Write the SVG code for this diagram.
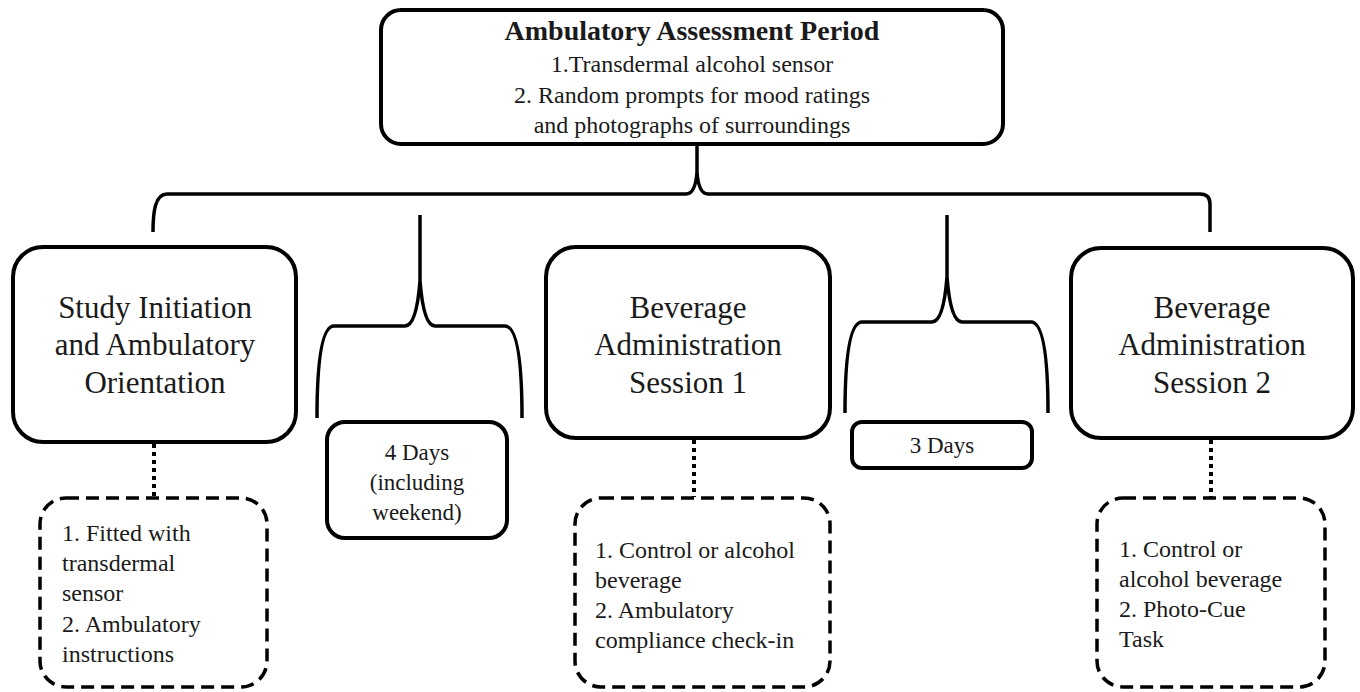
<svg xmlns="http://www.w3.org/2000/svg" width="1360" height="692" viewBox="0 0 1360 692">
<style>
.box{fill:#fff;stroke:#000;stroke-width:4}
.dash{fill:#fff;stroke:#000;stroke-width:3.5;stroke-dasharray:13 7}
.dot{fill:none;stroke:#000;stroke-width:4;stroke-dasharray:4 4}
.brace{fill:none;stroke:#000;stroke-width:3.5}
text{font-family:"Liberation Serif","Times New Roman",serif;fill:#1a1a1a}
.big{font-size:31px;text-anchor:middle}
.mid{font-size:24px;text-anchor:middle}
.sm{font-size:24px}
.days{font-size:23px;text-anchor:middle}
.title{font-size:28px;font-weight:bold;text-anchor:middle}
</style>
<rect width="1360" height="692" fill="#fff"/>
<g id="connectors">
<path class="brace" d="M153,232 C153,212 155,194 167,194 L686,194 C693,194 696,186 697,172 L697,145 M697,172 C698,186 701,194 708,194 L1200,194 Q1210,194 1210,204 L1210,232"/>
<path class="brace" d="M317,418 C317,373 320,326 334,326 L405,326 C414,326 418,306 420,281 L420,215 M420,281 C422,306 426,326 435,326 L505,326 C519,326 522,373 522,418"/>
<path class="brace" d="M845,413 C845,368 848,322 862,322 L932,322 C941,322 945,302 947,277 L947,215 M947,277 C949,302 953,322 962,322 L1031,322 C1045,322 1048,368 1048,413"/>
<line class="dot" x1="154" y1="444" x2="154" y2="497"/>
<line class="dot" x1="694" y1="440" x2="694" y2="497"/>
<line class="dot" x1="1211" y1="440" x2="1211" y2="497"/>
</g>
<g id="top">
<rect class="box" x="381" y="10" width="622" height="134" rx="20"/>
<text class="title" x="692" y="40">Ambulatory Assessment Period</text>
<text class="mid" x="692" y="72">1.Transdermal alcohol sensor</text>
<text class="mid" x="692" y="103">2. Random prompts for mood ratings</text>
<text class="mid" x="692" y="133">and photographs of surroundings</text>
</g>
<g id="study">
<rect class="box" x="13" y="247" width="283" height="195" rx="30"/>
<text class="big" x="155" y="318">Study Initiation</text>
<text class="big" x="155" y="355">and Ambulatory</text>
<text class="big" x="155" y="393">Orientation</text>
</g>
<g id="study-detail">
<rect class="dash" x="40" y="498" width="227" height="189" rx="26"/>
<text class="sm" x="62" y="541">1. Fitted with</text>
<text class="sm" x="62" y="571">transdermal</text>
<text class="sm" x="62" y="601">sensor</text>
<text class="sm" x="62" y="632">2. Ambulatory</text>
<text class="sm" x="62" y="662">instructions</text>
</g>
<g id="days4">
<rect class="box" x="327" y="422" width="180" height="116" rx="18"/>
<text class="days" x="417" y="460">4 Days</text>
<text class="days" x="417" y="490">(including</text>
<text class="days" x="417" y="520">weekend)</text>
</g>
<g id="session1">
<rect class="box" x="546" y="247" width="284" height="191" rx="30"/>
<text class="big" x="688" y="318">Beverage</text>
<text class="big" x="688" y="355">Administration</text>
<text class="big" x="688" y="393">Session 1</text>
</g>
<g id="session1-detail">
<rect class="dash" x="575" y="498" width="255" height="189" rx="26"/>
<text class="sm" x="595" y="558">1. Control or alcohol</text>
<text class="sm" x="595" y="588">beverage</text>
<text class="sm" x="595" y="618">2. Ambulatory</text>
<text class="sm" x="595" y="648">compliance check-in</text>
</g>
<g id="days3">
<rect class="box" x="852" y="422" width="180" height="46" rx="10"/>
<text class="days" x="942" y="453">3 Days</text>
</g>
<g id="session2">
<rect class="box" x="1071" y="248" width="282" height="190" rx="30"/>
<text class="big" x="1212" y="318">Beverage</text>
<text class="big" x="1212" y="355">Administration</text>
<text class="big" x="1212" y="393">Session 2</text>
</g>
<g id="session2-detail">
<rect class="dash" x="1097" y="498" width="228" height="189" rx="26"/>
<text class="sm" x="1119" y="557">1. Control or</text>
<text class="sm" x="1119" y="587">alcohol beverage</text>
<text class="sm" x="1119" y="617">2. Photo-Cue</text>
<text class="sm" x="1119" y="647">Task</text>
</g>
</svg>
